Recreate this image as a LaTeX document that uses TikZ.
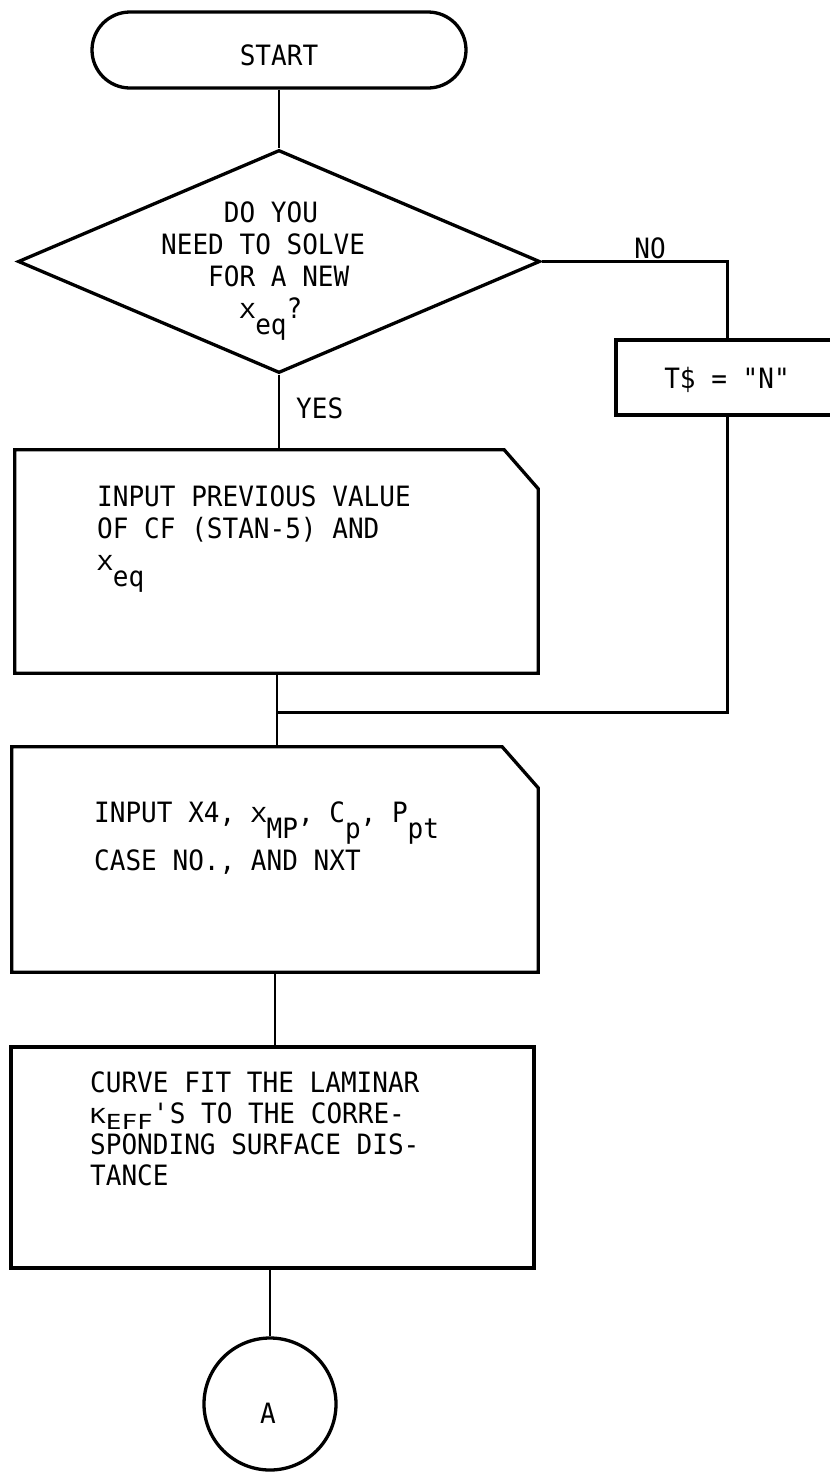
\documentclass[tikz,border=0pt]{standalone}
\usepackage{fontspec}
\usepackage{graphicx}
\newfontfamily\tw[FakeStretch=0.93]{DejaVu Sans Mono}
\usetikzlibrary{shapes.geometric}
\newcommand\subtx[1]{\raisebox{-16pt}[0pt][0pt]{#1}}
\newcommand\sqx[1]{\scalebox{1}[0.74]{#1}}
\newcommand\txtlines[2]{\vtop{\baselineskip=#1\relax\lineskiplimit=-1000pt\lineskip=0pt #2}}
\begin{document}
\begin{tikzpicture}[x=1pt,y=-1pt,line join=miter,
  shapeline/.style={draw,line width=3.3pt},
  fshape/.style={draw,line width=3.3pt,inner sep=0pt},
  conn/.style={line width=2pt},
  branch/.style={line width=3pt},
  txt/.style={font=\tw\fontsize{28pt}{32pt}\selectfont\frenchspacing,inner sep=0pt}]
\useasboundingbox (0,0) rectangle (830,1473);
\clip (0,0) rectangle (830,1473);

% START terminator
\node[fshape,rectangle,rounded corners=38pt,minimum width=374pt,minimum height=76pt] (start) at (279,50) {};
\node[txt,anchor=base] (startlbl) at (279,65) {START};

% decision
\node[fshape,diamond,minimum width=522pt,minimum height=223pt] (dec) at (279,261.5) {};
\node[txt,anchor=base west] (dectxt) at (161,222) {\txtlines{32pt}{\hbox{\hphantom{0000}DO YOU}\hbox{NEED TO SOLVE}\hbox{\hphantom{000}FOR A NEW}\hbox{\hphantom{00000}\sqx{X}\subtx{eq}?}}};

% T$ box
\node[fshape,rectangle,minimum width=222pt,minimum height=75pt] (tbox) at (727,377.5) {};
\node[txt,anchor=base] (tlbl) at (727,388) {T\$ = "N"};

% input box 1
\node[rectangle,inner sep=0pt,minimum width=523pt,minimum height=223pt] (box1) at (276.5,561.5) {};
\draw[shapeline] (box1.north west) -- ([xshift=-34pt]box1.north east) -- ([yshift=-39pt]box1.north east) -- (box1.south east) -- (box1.south west) -- cycle;
\node[txt,anchor=base west] (box1txt) at (97,506) {\txtlines{32pt}{\hbox{INPUT PREVIOUS VALUE}\hbox{OF CF (STAN-5) AND}\hbox{\sqx{X}\subtx{eq}}}};

% input box 2
\node[rectangle,inner sep=0pt,minimum width=526pt,minimum height=225pt] (box2) at (275,859.5) {};
\draw[shapeline] (box2.north west) -- ([xshift=-36pt]box2.north east) -- ([yshift=-41pt]box2.north east) -- (box2.south east) -- (box2.south west) -- cycle;
\node[txt,anchor=base west] (box2txt) at (94,822) {\txtlines{48pt}{\hbox{INPUT X4, \sqx{X}\subtx{MP}, C\subtx{p}, P\subtx{pt}}\hbox{CASE NO., AND NXT}}};

% process box 3
\node[fshape,rectangle,minimum width=523pt,minimum height=221pt] (box3) at (272.5,1157.5) {};
\node[txt,anchor=base west] (box3txt) at (90,1092) {\txtlines{31pt}{\hbox{CURVE FIT THE LAMINAR}\hbox{\sqx{K}\raisebox{-6pt}{\sqx{EFF}}\textquotesingle S TO THE CORRE-}\hbox{SPONDING SURFACE DIS-}\hbox{TANCE}}};

% connector A
\node[fshape,circle,minimum size=132pt] (circ) at (270,1404) {};
\node[txt,anchor=base] (alab) at (268,1423) {A};

% labels
\node[txt,anchor=base] (nolbl) at (650,258) {NO};
\node[txt,anchor=base west] (yeslbl) at (296,418) {YES};

% connectors
\coordinate (jn) at (276.5,712);
\draw[conn] (start.south) -- (start.south |- dec.north);
\draw[conn] (dec.south) -- (dec.south |- box1.north);
\draw[conn] (box1.south) -- (box1.south |- box2.north);
\draw[conn] (box2.south) -- (box2.south |- box3.north);
\draw[conn] (box3.south -| circ.north) -- (circ.north);
\draw[branch] (dec.east) -| (tbox.north);
\draw[branch] (tbox.south) |- (jn);
\end{tikzpicture}
\end{document}
